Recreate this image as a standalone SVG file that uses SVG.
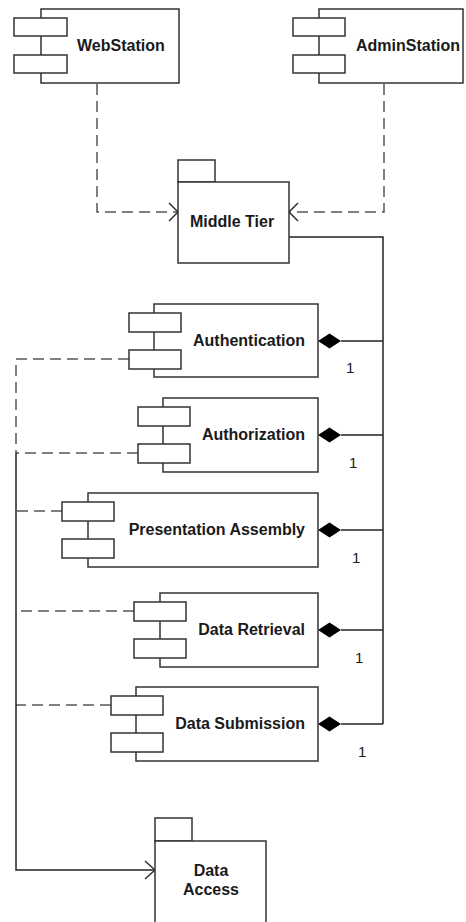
<svg xmlns="http://www.w3.org/2000/svg" width="466" height="922" viewBox="0 0 466 922">
  <style>
    .box { fill: #ffffff; stroke: #333333; stroke-width: 1.5; }
    .port { fill: #ffffff; stroke: #333333; stroke-width: 1.5; }
    .lbl { font-family: "Liberation Sans", Arial, sans-serif; font-weight: bold; font-size: 16px; fill: #1a1a1a; }
    .mult { font-family: "Liberation Sans", Arial, sans-serif; font-size: 15px; fill: #1a1a1a; }
    .dep { fill: none; stroke: #555555; stroke-width: 1.5; stroke-dasharray: 11 6; }
    .solid { fill: none; stroke: #222222; stroke-width: 1.5; }
    .head { fill: none; stroke: #333333; stroke-width: 1.5; }
    .dia { fill: #000000; stroke: none; }
  </style>

  <!-- connectors -->
  <g id="connectors">
    <!-- stations depend on the middle tier -->
    <polyline class="dep" points="97,84 97,212 177,212"/>
    <polyline class="head" points="169,203 178,212 169,221"/>
    <polyline class="dep" points="384,84 384,212 290,212"/>
    <polyline class="head" points="298,203 289,212 298,221"/>

    <!-- composition: middle tier owns the services -->
    <polyline class="solid" points="289,237 383,237 383,724"/>
    <line class="solid" x1="341" y1="341" x2="383" y2="341"/>
    <line class="solid" x1="341" y1="435" x2="383" y2="435"/>
    <line class="solid" x1="341" y1="530" x2="383" y2="530"/>
    <line class="solid" x1="341" y1="630" x2="383" y2="630"/>
    <line class="solid" x1="341" y1="724" x2="383" y2="724"/>
    <polygon class="dia" points="318,341 329.5,333.5 341,341 329.5,348.5"/>
    <polygon class="dia" points="318,435 329.5,427.5 341,435 329.5,442.5"/>
    <polygon class="dia" points="318,530 329.5,522.5 341,530 329.5,537.5"/>
    <polygon class="dia" points="318,630 329.5,622.5 341,630 329.5,637.5"/>
    <polygon class="dia" points="318,724 329.5,716.5 341,724 329.5,731.5"/>
    <text class="mult" x="346" y="373">1</text>
    <text class="mult" x="349" y="468">1</text>
    <text class="mult" x="352" y="563">1</text>
    <text class="mult" x="355" y="663">1</text>
    <text class="mult" x="358" y="757">1</text>

    <!-- services depend on data access -->
    <polyline class="dep" points="129,359 16,359 16,453"/>
    <line class="dep" x1="138" y1="453" x2="16" y2="453"/>
    <line class="dep" x1="62" y1="511" x2="16" y2="511"/>
    <line class="dep" x1="134" y1="611" x2="16" y2="611"/>
    <line class="dep" x1="111" y1="705" x2="16" y2="705"/>
    <polyline class="solid" points="16,453 16,870 154,870"/>
    <polyline class="head" points="145,861 155,870 145,879"/>
  </g>

  <g id="webstation">
    <rect class="box" x="41" y="9" width="138" height="74"/>
    <rect class="port" x="14" y="18" width="53" height="18"/>
    <rect class="port" x="14" y="55" width="53" height="18"/>
    <text class="lbl" x="77" y="51">WebStation</text>
  </g>

  <g id="adminstation">
    <rect class="box" x="319" y="9" width="144" height="74"/>
    <rect class="port" x="293" y="18" width="52" height="18"/>
    <rect class="port" x="293" y="55" width="52" height="18"/>
    <text class="lbl" x="460" y="51" text-anchor="end">AdminStation</text>
  </g>

  <g id="middle-tier">
    <rect class="box" x="178" y="160" width="37" height="22"/>
    <rect class="box" x="178" y="182" width="111" height="81"/>
    <text class="lbl" x="190" y="227">Middle Tier</text>
  </g>

  <g id="authentication">
    <rect class="box" x="154" y="304" width="164" height="73"/>
    <rect class="port" x="129" y="313" width="52" height="19"/>
    <rect class="port" x="129" y="350" width="52" height="19"/>
    <text class="lbl" x="305" y="346" text-anchor="end">Authentication</text>
  </g>

  <g id="authorization">
    <rect class="box" x="163" y="398" width="155" height="74"/>
    <rect class="port" x="138" y="407" width="52" height="19"/>
    <rect class="port" x="138" y="444" width="52" height="19"/>
    <text class="lbl" x="305" y="440" text-anchor="end">Authorization</text>
  </g>

  <g id="presentation-assembly">
    <rect class="box" x="88" y="493" width="230" height="74"/>
    <rect class="port" x="62" y="502" width="52" height="19"/>
    <rect class="port" x="62" y="539" width="52" height="19"/>
    <text class="lbl" x="305" y="535" text-anchor="end">Presentation Assembly</text>
  </g>

  <g id="data-retrieval">
    <rect class="box" x="160" y="593" width="158" height="74"/>
    <rect class="port" x="134" y="602" width="52" height="19"/>
    <rect class="port" x="134" y="639" width="52" height="19"/>
    <text class="lbl" x="305" y="635" text-anchor="end">Data Retrieval</text>
  </g>

  <g id="data-submission">
    <rect class="box" x="136" y="687" width="182" height="74"/>
    <rect class="port" x="111" y="696" width="52" height="19"/>
    <rect class="port" x="111" y="733" width="52" height="19"/>
    <text class="lbl" x="305" y="729" text-anchor="end">Data Submission</text>
  </g>

  <g id="data-access">
    <rect class="box" x="155" y="818" width="37" height="23"/>
    <rect class="box" x="155" y="841" width="111" height="90"/>
    <text class="lbl" x="211" y="876" text-anchor="middle">Data</text>
    <text class="lbl" x="211" y="895" text-anchor="middle">Access</text>
  </g>
</svg>
